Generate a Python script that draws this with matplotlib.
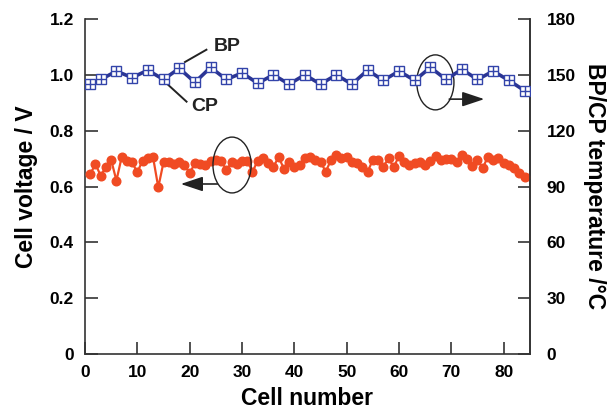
import matplotlib
matplotlib.use("Agg")
import matplotlib.pyplot as plt
from matplotlib.patches import Ellipse

plt.rcParams['font.family'] = ['Liberation Sans', 'DejaVu Sans']
plt.rcParams['font.weight'] = 'bold'

# Cell voltage of each cell in the stack (V)
cells = list(range(1, 85))
voltage = [0.644, 0.681, 0.638, 0.671, 0.695, 0.621, 0.705, 0.693, 0.686, 0.651,
           0.693, 0.701, 0.705, 0.597, 0.687, 0.686, 0.681, 0.688, 0.677, 0.648,
           0.683, 0.681, 0.677, 0.693, 0.695, 0.693, 0.659, 0.686, 0.681, 0.693,
           0.693, 0.652, 0.693, 0.701, 0.685, 0.671, 0.705, 0.664, 0.689, 0.671,
           0.677, 0.701, 0.707, 0.695, 0.689, 0.653, 0.695, 0.713, 0.701, 0.707,
           0.689, 0.683, 0.671, 0.653, 0.695, 0.695, 0.671, 0.701, 0.669, 0.710,
           0.689, 0.677, 0.683, 0.689, 0.677, 0.693, 0.710, 0.695, 0.697, 0.697,
           0.689, 0.713, 0.697, 0.674, 0.695, 0.666, 0.707, 0.695, 0.701, 0.683,
           0.677, 0.666, 0.648, 0.633]

# Bipolar / cooling plate temperatures (deg C)
plate_cells = [1, 3, 6, 9, 12, 15, 18, 21, 24, 27, 30, 33, 36, 39, 42, 45, 48,
               51, 54, 57, 60, 63, 66, 69, 72, 75, 78, 81, 84]
plate_temp = [145.0, 147.5, 152.0, 148.5, 152.5, 147.5, 153.5, 146.0, 154.0,
              147.5, 151.0, 145.5, 150.0, 145.0, 150.0, 145.0, 150.0, 145.0,
              152.5, 147.0, 152.0, 147.0, 154.0, 147.5, 153.0, 147.5, 152.0,
              147.0, 141.5]

left_ticks = [0, 0.2, 0.4, 0.6, 0.8, 1.0, 1.2]
left_labels = ['0', '0.2', '0.4', '0.6', '0.8', '1.0', '1.2']
right_ticks = [0, 30, 60, 90, 120, 150, 180]
x_ticks = [0, 10, 20, 30, 40, 50, 60, 70, 80]

red = '#f04b23'
blue_line = '#2b3594'
blue_mark = '#3344aa'
spine_c = '#333333'
ink = '#222222'

fig = plt.figure(figsize=(6.09, 4.09), dpi=100)
ax = fig.add_axes([0.1396, 0.1345, 0.7304, 0.819])
ax2 = ax.twinx()

ax.plot(cells, voltage, color=red, lw=1.6, marker='o', ms=6.2,
        mfc=red, mec=red, zorder=3)

ax2.plot(plate_cells, plate_temp, color=blue_line, lw=2.6, zorder=2)
ax2.plot(plate_cells, plate_temp, ls='none', marker='s', ms=7, mfc='white',
         mec=blue_mark, mew=1.0, zorder=3)
ax2.plot(plate_cells, plate_temp, ls='none', marker='+', ms=7,
         mec=blue_mark, mew=1.0, zorder=4)

ax.set_xlim(0, 85)
ax.set_ylim(0, 1.2)
ax2.set_ylim(0, 180)

ax.set_xticks(x_ticks)
ax.set_yticks(left_ticks)
ax.set_yticklabels(left_labels)
ax2.set_yticks(right_ticks)

for a in (ax, ax2):
    a.spines['top'].set_visible(False)
    for s in a.spines.values():
        s.set_color(spine_c)
        s.set_linewidth(1.2)
    a.tick_params(direction='in', length=9, width=1.2, color=spine_c,
                  labelsize=12.5, pad=8)
ax2.tick_params(axis='y', pad=12)
ax2.spines['left'].set_visible(False)
ax2.spines['bottom'].set_visible(False)

ax.set_xlabel('Cell number', fontsize=16.5, fontweight='bold', labelpad=5)
ax.set_ylabel('Cell voltage / V', fontsize=16.5, fontweight='bold', labelpad=8)
ax2.set_ylabel('BP/CP temperature /°C', fontsize=16.5, fontweight='bold',
               rotation=270, labelpad=22)

arrow_style = dict(arrowstyle='-|>,head_length=0.9,head_width=0.3',
                   mutation_scale=15, color=ink, lw=1.2, shrinkA=0, shrinkB=0)

# Ellipses marking which axis each series belongs to
ax.add_patch(Ellipse((28.1, 0.677), 7.3, 0.2, fill=False, ec=ink,
                     lw=1.0, zorder=5))
ax.annotate('', xy=(18.3, 0.609), xytext=(25.3, 0.609), arrowprops=arrow_style)

ax.add_patch(Ellipse((66.95, 0.973), 7.1, 0.197, fill=False, ec=ink,
                     lw=1.0, zorder=5))
ax.annotate('', xy=(76.3, 0.913), xytext=(69.6, 0.913), arrowprops=arrow_style)

# BP / CP callouts
ax.plot([19.1, 23.2], [1.046, 1.090], color=ink, lw=1.4)
ax.text(27.1, 1.100, 'BP', fontsize=14, fontweight='bold', ha='center',
        va='center', color=ink)
ax.plot([15.9, 19.4], [0.964, 0.904], color=ink, lw=1.4)
ax.text(22.8, 0.887, 'CP', fontsize=14, fontweight='bold', ha='center',
        va='center', color=ink)

fig.savefig('out.png', dpi=100)
